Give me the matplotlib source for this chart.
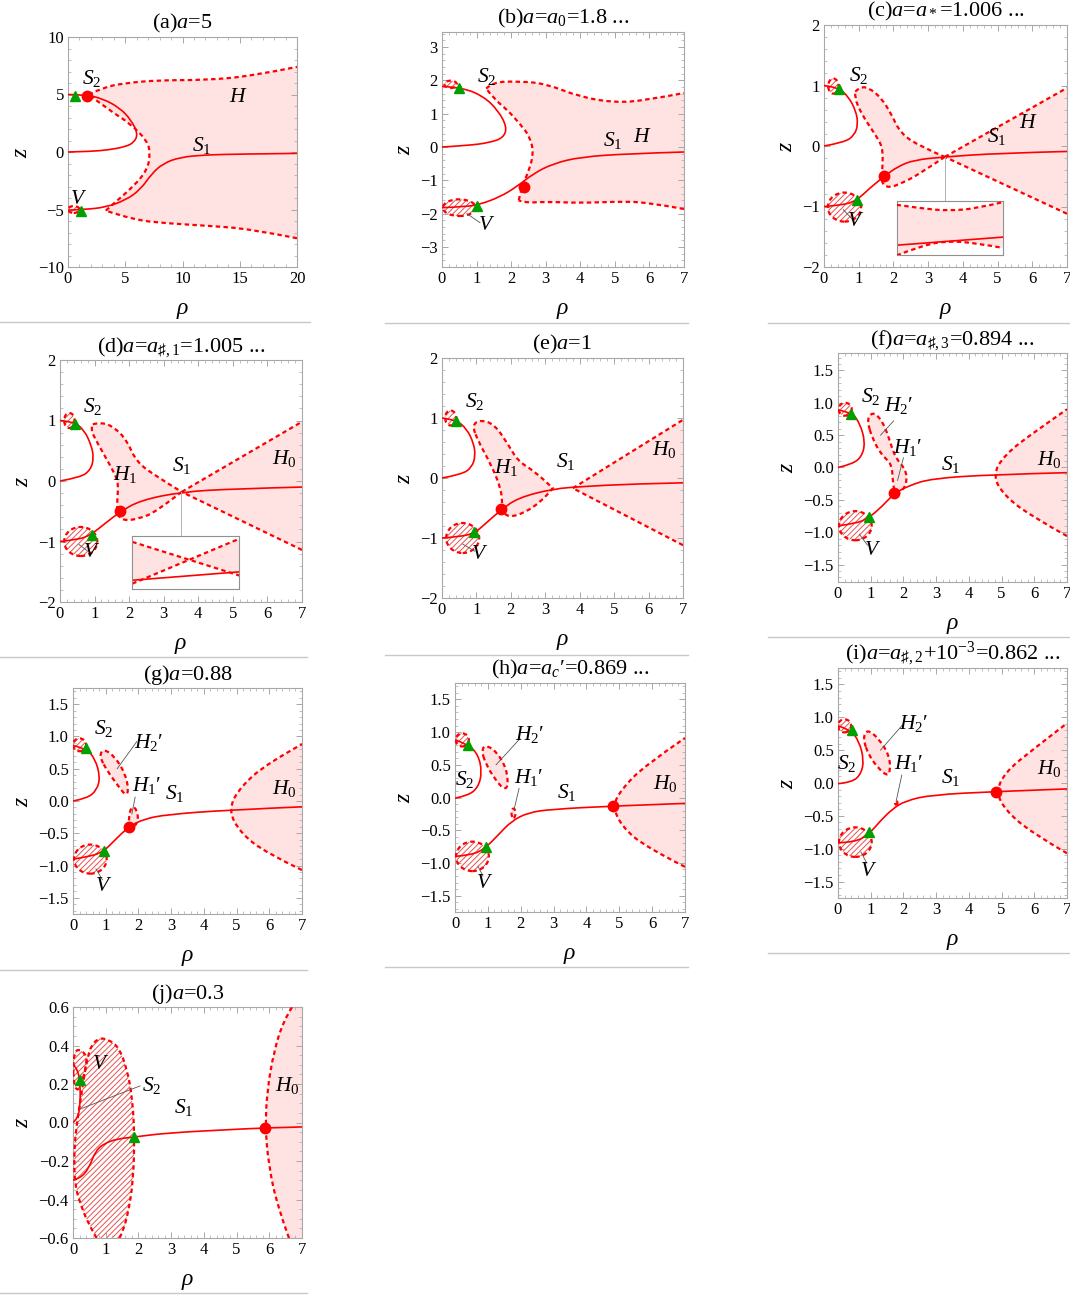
import numpy as np
import matplotlib
matplotlib.use('Agg')
import matplotlib.pyplot as plt
from matplotlib.path import Path
from matplotlib.patches import PathPatch, Ellipse
from matplotlib.lines import Line2D
from matplotlib.ticker import MultipleLocator

plt.rcParams['font.family'] = ['Liberation Serif', 'DejaVu Serif']
plt.rcParams['mathtext.fontset'] = 'custom'
plt.rcParams['mathtext.rm'] = 'Liberation Serif'
plt.rcParams['mathtext.it'] = 'Liberation Serif:italic'
plt.rcParams['mathtext.bf'] = 'Liberation Serif:bold'
plt.rcParams['mathtext.fallback'] = 'stix'
plt.rcParams['hatch.linewidth'] = 0.7

RED = '#ff0000'
PINK = '#ffe2e2'
HATCH = '#e85050'
GREEN = '#00a000'
FRAME = '#a8a8a8'
DOTTED = (0, (2.0, 1.5))

# ---------------- data (rho, z) ----------------
# (a) a = 5
a_s2 = [(0, 5), (1.5, 4.98), (3, 4.65), (4.5, 3.85), (5.5, 2.8), (6.1, 1.6), (5.8, 0.85), (5, 0.45), (3.5, 0.18), (2, 0.05), (0, 0)]
a_s1 = [(0, -5.05), (1.5, -5.0), (3.3, -4.8), (5, -4.2), (6.3, -3.3), (7.3, -1.9), (8.3, -1.0), (9.8, -0.45), (12, -0.25), (15, -0.18), (20, -0.12)]
a_h_low = [(20, -7.5), (16, -6.7), (12, -6.4), (8.6, -6.2), (5.7, -5.9), (3.3, -5.1)]
a_h_in = [(3.3, -5.1), (4.2, -4.3), (5.7, -3.0), (6.9, -1.6), (7.2, -0.15), (6.9, 1.0), (5.4, 2.5), (3.65, 3.6), (1.8, 5.0)]
a_h_top = [(1.8, 5.0), (3, 5.6), (5, 6.0), (8, 6.25), (12, 6.25), (16, 6.6), (20, 7.4)]
a_v = (0.5, -5.0, 1.0, 0.6)
a_tri = [(0.58, 4.85), (1.1, -5.1)]
a_dot = [(1.7, 4.9)]

# (b) a = a0
b_s2 = [(0, 1.82), (0.6, 1.78), (1.2, 1.52), (1.62, 1.1), (1.88, 0.6), (1.78, 0.28), (1.38, 0.13), (0.7, 0.04), (0, 0)]
b_s1 = [(0, -1.82), (0.7, -1.79), (1.1, -1.72), (1.67, -1.5), (2.15, -1.2), (2.64, -0.8), (3.21, -0.5), (4.0, -0.3), (5.4, -0.2), (7, -0.15)]
b_h_low = [(7, -1.86), (5.9, -1.65), (5.0, -1.64), (4.0, -1.68), (3.0, -1.64), (2.4, -1.68), (2.22, -1.6)]
b_h_in = [(2.22, -1.6), (2.3, -1.2), (2.5, -0.75), (2.65, -0.2), (2.55, 0.3), (2.25, 0.7), (1.9, 1.1), (1.5, 1.45), (1.28, 1.75)]
b_h_top = [(1.28, 1.75), (1.45, 1.95), (2.25, 1.97), (3.0, 1.9), (4.0, 1.5), (5.0, 1.33), (5.9, 1.4), (7, 1.62)]
b_top = (0.25, 1.88, 0.36, 0.22)
b_v = (0.5, -1.82, 0.95, 0.5)
b_tri = [(0.48, 1.76), (1.0, -1.78)]
b_dot = [(2.38, -1.2)]

# (c) a = a*
c_s2 = [(0, 1.0), (0.4, 0.97), (0.7, 0.82), (0.92, 0.58), (0.98, 0.36), (0.88, 0.18), (0.59, 0.06), (0, 0)]
c_s1 = [(0, -1.0), (0.5, -0.98), (0.92, -0.91), (1.35, -0.68), (1.74, -0.5), (2.12, -0.34), (2.6, -0.23), (3.48, -0.18), (5, -0.12), (7, -0.09)]
c_h_b1 = [(7, -1.12), (3.48, -0.18)]
c_h_b2 = [(3.48, -0.18), (2.78, -0.45), (2.3, -0.6), (1.85, -0.7), (1.64, -0.6), (1.69, -0.34), (1.69, -0.01), (1.45, 0.21), (1.07, 0.54), (0.88, 0.8), (0.9, 0.9)]
c_h_a1 = [(0.9, 0.9), (1.05, 0.98), (1.3, 0.96), (1.64, 0.8), (1.93, 0.54), (2.2, 0.21), (2.78, -0.01), (3.48, -0.18)]
c_h_a2 = [(3.48, -0.18), (7, 0.96)]
c_top = (0.27, 0.99, 0.3, 0.25)
c_v = (0.59, -1.01, 0.96, 0.48)
c_tri = [(0.42, 0.95), (0.95, -0.9)]
c_dot = [(1.72, -0.5)]
c_in_box = (2.09, -1.8, 3.06, 0.89)
c_in_up = [(0, 0.93), (0.25, 0.86), (0.48, 0.82), (0.75, 0.86), (1, 0.98)]
c_in_low = [(0, -0.01), (0.25, 0.18), (0.48, 0.26), (0.75, 0.22), (1, 0.13)]
c_in_s1 = [(0, 0.18), (1, 0.33)]
c_link = [(3.48, -0.18), (3.48, -0.91)]

# (d) a = a#,1
d_s2 = [(0, 1.0), (0.4, 0.98), (0.7, 0.84), (0.9, 0.6), (0.98, 0.38), (0.88, 0.18), (0.59, 0.06), (0, 0)]
d_s1 = [(0, -1.0), (0.5, -0.97), (0.87, -0.9), (1.35, -0.68), (1.74, -0.51), (2.32, -0.32), (3.52, -0.18), (5, -0.13), (7, -0.1)]
d_h_b1 = [(7, -1.14), (3.52, -0.18)]
d_h_b2 = [(3.52, -0.18), (2.8, -0.5), (2.32, -0.62), (1.83, -0.66), (1.64, -0.54), (1.66, -0.29), (1.69, -0.01), (1.45, 0.26), (1.06, 0.65), (0.88, 0.86), (0.95, 0.94)]
d_h_a1 = [(0.95, 0.94), (1.2, 0.97), (1.54, 0.9), (1.93, 0.68), (2.2, 0.32), (2.8, 0.07), (3.52, -0.18)]
d_h_a2 = [(3.52, -0.18), (7, 0.98)]
d_top = (0.27, 1.0, 0.3, 0.25)
d_v = (0.6, -1.0, 0.96, 0.48)
d_tri = [(0.42, 0.95), (0.93, -0.9)]
d_dot = [(1.74, -0.5)]
d_in_box = (2.09, -1.78, 3.1, 0.87)
d_in_l1 = [(0, 0.89), (1, 0.25)]
d_in_l2 = [(0, 0.095), (1, 0.95)]
d_in_s1 = [(0, 0.16), (1, 0.32)]
d_link = [(3.5, -0.18), (3.5, -0.91)]

# (e) a = 1
e_s2 = [(0, 1.0), (0.4, 0.97), (0.72, 0.82), (0.92, 0.58), (0.97, 0.37), (0.87, 0.18), (0.58, 0.06), (0, 0)]
e_s1 = [(0, -1.0), (0.5, -0.98), (0.95, -0.92), (1.34, -0.72), (1.72, -0.53), (2.21, -0.33), (3.22, -0.18), (4.14, -0.14), (5.5, -0.1), (7, -0.08)]
e_h1 = [(0.87, 0.89), (1.14, 0.97), (1.53, 0.89), (1.92, 0.56), (2.21, 0.28), (2.69, 0.11), (3.22, -0.17), (3.22, -0.17), (2.88, -0.39), (2.4, -0.58), (1.92, -0.66), (1.74, -0.53), (1.74, -0.22), (1.43, 0.22), (1.05, 0.61)]
e_h0_low = [(7, -1.12), (3.8, -0.17)]
e_h0_up = [(3.8, -0.17), (7, 0.97)]
e_top = (0.25, 1.0, 0.32, 0.25)
e_v = (0.6, -1.0, 0.96, 0.5)
e_tri = [(0.42, 0.95), (0.93, -0.9)]
e_dot = [(1.72, -0.52)]

# (f) a = a#,3
f_s2 = [(0, 0.89), (0.43, 0.85), (0.68, 0.67), (0.83, 0.39), (0.73, 0.17), (0.43, 0.05), (0, 0)]
f_s1 = [(0, -0.9), (0.53, -0.87), (0.94, -0.78), (1.35, -0.6), (1.7, -0.41), (2.16, -0.28), (2.87, -0.17), (4.7, -0.11), (7, -0.08)]
f_h2 = [(0.89, 0.72), (1.0, 0.84), (1.2, 0.82), (1.45, 0.62), (1.65, 0.3), (1.8, 0.12), (2.05, -0.02), (2.12, -0.2), (1.98, -0.36), (1.75, -0.42), (1.68, -0.25), (1.65, 0.02), (1.5, 0.12), (1.3, 0.22), (1.05, 0.45)]
f_h0 = [(7, -1.06), (6.0, -0.78), (5.1, -0.45), (4.72, -0.12), (5.1, 0.2), (6.0, 0.55), (7, 0.9)]
f_top = (0.22, 0.9, 0.4, 0.2)
f_v = (0.53, -0.9, 1.0, 0.45)
f_tri = [(0.4, 0.83), (0.95, -0.77)]
f_dot = [(1.72, -0.4)]

# (g) a = 0.88
g_s2 = [(0, 0.86), (0.41, 0.81), (0.68, 0.65), (0.83, 0.37), (0.73, 0.17), (0.43, 0.04), (0, 0)]
g_s1 = [(0, -0.9), (0.53, -0.86), (0.94, -0.78), (1.29, -0.6), (1.7, -0.4), (2.16, -0.28), (2.87, -0.21), (4.71, -0.14), (7, -0.09)]
g_h2 = [(0.8, 0.7), (0.94, 0.81), (1.29, 0.68), (1.6, 0.42), (1.7, 0.17), (1.62, 0.08), (1.4, 0.22), (1.04, 0.47)]
g_h1 = [(1.7, -0.4), (1.72, -0.2), (1.8, -0.08), (1.95, -0.13), (2.0, -0.3), (1.85, -0.42)]
g_h0 = [(7, -1.07), (5.93, -0.81), (5.12, -0.5), (4.74, -0.13), (5.12, 0.22), (5.93, 0.58), (7, 0.88)]
g_top = (0.2, 0.87, 0.4, 0.2)
g_v = (0.53, -0.9, 1.0, 0.45)
g_tri = [(0.4, 0.82), (0.95, -0.77)]
g_dot = [(1.72, -0.4)]

# (h) a = ac'
h_s2 = [(0, 0.88), (0.41, 0.81), (0.71, 0.65), (0.82, 0.39), (0.71, 0.16), (0.41, 0.03), (0, -0.01)]
h_s1 = [(0, -0.9), (0.51, -0.88), (0.91, -0.78), (1.32, -0.57), (1.72, -0.36), (2.23, -0.23), (2.94, -0.18), (4.8, -0.13), (7, -0.09)]
h_h2 = [(0.81, 0.7), (0.91, 0.81), (1.27, 0.7), (1.57, 0.44), (1.62, 0.16), (1.47, 0.13), (1.22, 0.28), (0.96, 0.49)]
h_h1 = (1.78, -0.24, 0.12, 0.14)
h_h0 = [(7, -1.06), (5.78, -0.75), (5.07, -0.44), (4.8, -0.13), (5.07, 0.13), (5.78, 0.49), (7, 0.91)]
h_top = (0.22, 0.88, 0.4, 0.2)
h_v = (0.53, -0.9, 1.0, 0.45)
h_tri = [(0.4, 0.81), (0.95, -0.76)]
h_dot = [(4.8, -0.13)]

# (i) a = a#,2 + 1e-3
i_s2 = [(0, 0.87), (0.38, 0.81), (0.65, 0.63), (0.79, 0.35), (0.71, 0.14), (0.43, 0.01), (0, -0.01)]
i_s1 = [(0, -0.91), (0.53, -0.9), (0.94, -0.78), (1.29, -0.58), (1.65, -0.4), (2.06, -0.27), (2.87, -0.18), (4.81, -0.13), (7, -0.09)]
i_h2 = [(0.76, 0.68), (0.89, 0.82), (1.24, 0.68), (1.57, 0.42), (1.6, 0.17), (1.5, 0.11), (1.24, 0.22), (0.94, 0.42)]
i_h1 = (1.78, -0.3, 0.07, 0.06)
i_h0 = [(7, -1.07), (5.93, -0.76), (5.12, -0.42), (4.83, -0.13), (5.12, 0.17), (5.93, 0.5), (7, 0.91)]
i_top = (0.2, 0.87, 0.4, 0.2)
i_v = (0.53, -0.9, 1.0, 0.45)
i_tri = [(0.42, 0.8), (0.95, -0.75)]
i_dot = [(4.83, -0.13)]

# (j) a = 0.3
j_s2 = [(0, 0.3), (0.14, 0.28), (0.22, 0.2), (0.22, 0.09), (0.14, 0.02), (0, 0)]
j_s1 = [(0, -0.3), (0.22, -0.29), (0.48, -0.24), (0.68, -0.15), (0.94, -0.11), (1.35, -0.085), (1.86, -0.076), (2.87, -0.054), (4.9, -0.036), (5.88, -0.028), (7, -0.023)]
j_v_small = [(0.0, 0.3), (0.06, 0.37), (0.2, 0.38), (0.35, 0.36), (0.44, 0.33), (0.3, 0.22), (0.15, 0.16), (0.02, 0.2)]
j_v_big = [(0.72, -0.6), (0.45, -0.52), (0.22, -0.42), (0.05, -0.32), (0.03, -0.15), (0.12, 0.0), (0.26, 0.15), (0.36, 0.26), (0.44, 0.33),
           (0.55, 0.4), (0.8, 0.44), (1.1, 0.43), (1.4, 0.39), (1.65, 0.28), (1.82, 0.12), (1.88, -0.08), (1.84, -0.3), (1.7, -0.46), (1.52, -0.57), (1.42, -0.6)]
j_h0 = [(6.6, -0.6), (6.24, -0.43), (5.98, -0.22), (5.88, -0.03), (5.93, 0.16), (6.14, 0.37), (6.44, 0.53), (6.7, 0.6)]
j_tri = [(0.22, 0.22), (1.86, -0.076)]
j_dot = [(5.88, -0.028)]

S1 = r'$S_{\mathit{1}}$'
S2 = r'$S_{\mathit{2}}$'
H0 = r'$H_{\mathit{0}}$'
H1 = r'$H_{\mathit{1}}$'
H1p = r"$H_{\mathit{1}}$′"
H2p = r"$H_{\mathit{2}}$′"
HH = r'$H$'
VV = r'$V$'

titles = [r'(a)$a$=5', r'(b)$a$=$a_{\mathit{0}}$=1.8 ...', r'(c)$a$=$a_*$=1.006 ...',
          r'(d)$a$=$a_{\sharp,\mathit{1}}$=1.005 ...', r'(e)$a$=1', r'(f)$a$=$a_{\sharp,\mathit{3}}$=0.894 ...',
          r'(g)$a$=0.88', r"(h)$a$=$a_c$′=0.869 ...", r'(i)$a$=$a_{\sharp,\mathit{2}}$+$\mathit{10}^{-\mathit{3}}$=0.862 ...',
          r'(j)$a$=0.3']


# ---------------- helpers ----------------
def quad_chain(pts):
    pts = np.asarray(pts, float)
    n = len(pts)
    if n == 2:
        return [tuple(pts[1])], [Path.LINETO]
    verts, codes = [], []
    for k in range(1, n - 1):
        end = pts[n - 1] if k == n - 2 else (pts[k] + pts[k + 1]) / 2
        verts += [tuple(pts[k]), tuple(end)]
        codes += [Path.CURVE3, Path.CURVE3]
    return verts, codes


def open_path(pts):
    v, c = quad_chain(pts)
    return Path([tuple(pts[0])] + v, [Path.MOVETO] + c)


def loop_path(pts):
    pts = np.asarray(pts, float)
    n = len(pts)
    start = (pts[-1] + pts[0]) / 2
    verts, codes = [tuple(start)], [Path.MOVETO]
    for k in range(n):
        verts += [tuple(pts[k]), tuple((pts[k] + pts[(k + 1) % n]) / 2)]
        codes += [Path.CURVE3, Path.CURVE3]
    verts.append(tuple(start))
    codes.append(Path.CLOSEPOLY)
    return Path(verts, codes)


def chain_path(segs, close, xmax):
    verts, codes = [tuple(segs[0][0])], [Path.MOVETO]
    for s in segs:
        if not np.allclose(verts[-1], s[0]):
            verts.append(tuple(s[0]))
            codes.append(Path.LINETO)
        v, c = quad_chain(s)
        verts += v
        codes += c
    if close == 'right':
        yl = verts[-1][1]
        verts += [(xmax, yl), (xmax, segs[0][0][1])]
        codes += [Path.LINETO, Path.LINETO]
    verts.append(tuple(segs[0][0]))
    codes.append(Path.CLOSEPOLY)
    return Path(verts, codes)


def dotted(ax, path):
    ax.add_patch(PathPatch(path, fill=False, edgecolor=RED, lw=1.6, linestyle=DOTTED, zorder=3))


def region(ax, spec, xmax):
    hatched = spec.get('hatch', False)
    kw = dict(facecolor='none', edgecolor=HATCH, hatch='//////', lw=0) if hatched else \
        dict(facecolor=PINK, edgecolor='none', lw=0)
    if 'ell' in spec:
        cx, cy, w, h = spec['ell']
        ax.add_patch(Ellipse((cx, cy), w, h, zorder=1, **kw))
        ax.add_patch(Ellipse((cx, cy), w, h, fill=False, edgecolor=RED, lw=1.6, linestyle=DOTTED, zorder=3))
    elif 'loop' in spec:
        ax.add_patch(PathPatch(loop_path(spec['loop']), zorder=1, **kw))
        dotted(ax, loop_path(spec['loop']))
    else:
        ax.add_patch(PathPatch(chain_path(spec['segs'], spec.get('close', 'line'), xmax), zorder=1, **kw))
        for s in spec['segs']:
            dotted(ax, open_path(s))


def hatch_ell(e):
    return dict(ell=e, hatch=True)


# ---------------- panel table ----------------
panels = [
    dict(box=(68, 37, 297, 267), xlim=(0, 20), ylim=(-10, 10), xt=(5, 1), yt=(5, 1), curves=[a_s2, a_s1],
         regions=[dict(segs=[a_h_low, a_h_in, a_h_top], close='right'), hatch_ell(a_v)],
         tri=a_tri, dot=a_dot, sep=(0, 310, 322),
         labels=[(2.1, 6.4, S2), (14.9, 4.7, HH), (11.7, 0.55, S1), (0.9, -4.1, VV)], pointers=[]),
    dict(box=(442, 32, 684, 267), xlim=(0, 7), ylim=(-3.6, 3.45), xt=(1, 0.2), yt=(1, 0.2), curves=[b_s2, b_s1],
         regions=[dict(segs=[b_h_low, b_h_in, b_h_top], close='right'), hatch_ell(b_top), hatch_ell(b_v)],
         tri=b_tri, dot=b_dot, sep=(385, 688, 323),
         labels=[(1.3, 2.12, S2), (4.95, 0.2, S1), (5.8, 0.3, HH), (1.28, -2.35, VV)],
         pointers=[[(0.72, -2.0), (1.1, -2.27)]]),
    dict(box=(824, 25, 1067, 267), xlim=(0, 7), ylim=(-2, 2), xt=(1, 0.2), yt=(1, 0.2), curves=[c_s2, c_s1],
         regions=[dict(segs=[c_h_b1, c_h_b2, c_h_a1, c_h_a2], close='right'), hatch_ell(c_top), hatch_ell(c_v)],
         tri=c_tri, dot=c_dot, sep=(768, 1070, 323),
         labels=[(1.0, 1.16, S2), (4.98, 0.15, S1), (5.9, 0.37, HH), (0.92, -1.25, VV)],
         pointers=[[(0.55, -1.05), (0.8, -1.2)]],
         inset=dict(box=c_in_box, kind='gap', a=c_in_low, b=c_in_up, s1=c_in_s1, link=c_link)),
    dict(box=(60, 360, 302, 602), xlim=(0, 7), ylim=(-2, 2), xt=(1, 0.2), yt=(1, 0.2), curves=[d_s2, d_s1],
         regions=[dict(segs=[d_h_b1, d_h_b2, d_h_a1, d_h_a2], close='right'), hatch_ell(d_top), hatch_ell(d_v)],
         tri=d_tri, dot=d_dot, sep=(0, 307, 657),
         labels=[(0.95, 1.23, S2), (1.88, 0.1, H1), (3.52, 0.26, S1), (6.5, 0.37, H0), (0.9, -1.18, VV)],
         pointers=[[(0.55, -1.05), (0.78, -1.15)]],
         inset=dict(box=d_in_box, kind='cross', a=d_in_l1, b=d_in_l2, s1=d_in_s1, link=d_link)),
    dict(box=(442, 358, 683, 598), xlim=(0, 7), ylim=(-2, 2), xt=(1, 0.2), yt=(1, 0.2), curves=[e_s2, e_s1],
         regions=[dict(loop=e_h1), dict(segs=[e_h0_low, e_h0_up], close='right'), hatch_ell(e_top), hatch_ell(e_v)],
         tri=e_tri, dot=e_dot, sep=(385, 688, 655),
         labels=[(0.95, 1.28, S2), (1.87, 0.17, H1), (3.6, 0.28, S1), (6.47, 0.47, H0), (1.1, -1.28, VV)],
         pointers=[[(0.6, -1.1), (0.95, -1.22)]]),
    dict(box=(838, 353, 1067, 582), xlim=(0, 7), ylim=(-1.77, 1.77), xt=(1, 0.2), yt=(0.5, 0.1), curves=[f_s2, f_s1],
         regions=[dict(loop=f_h2), dict(segs=[f_h0], close='right'), hatch_ell(f_top), hatch_ell(f_v)],
         tri=f_tri, dot=f_dot, sep=(768, 1070, 637),
         labels=[(1.0, 1.1, S2), (1.85, 0.96, H2p), (2.12, 0.31, H1p), (3.45, 0.05, S1), (6.45, 0.13, H0), (1.05, -1.28, VV)],
         pointers=[[(1.3, 0.5), (1.7, 0.72)], [(2.0, 0.15), (1.82, -0.2)], [(0.65, -1.03), (0.9, -1.2)]]),
    dict(box=(73, 688, 302, 914), xlim=(0, 7), ylim=(-1.75, 1.75), xt=(1, 0.2), yt=(0.5, 0.1), curves=[g_s2, g_s1],
         regions=[dict(loop=g_h2), dict(loop=g_h1), dict(segs=[g_h0], close='right'), hatch_ell(g_top), hatch_ell(g_v)],
         tri=g_tri, dot=g_dot, sep=(0, 307, 970),
         labels=[(0.95, 1.12, S2), (2.3, 0.91, H2p), (2.25, 0.24, H1p), (3.1, 0.12, S1), (6.45, 0.2, H0), (0.95, -1.32, VV)],
         pointers=[[(1.35, 0.5), (1.95, 0.92)], [(1.9, 0.06), (1.8, -0.2)], [(0.7, -1.05), (0.9, -1.22)]]),
    dict(box=(455, 683, 685, 912), xlim=(0, 7), ylim=(-1.75, 1.75), xt=(1, 0.2), yt=(0.5, 0.1), curves=[h_s2, h_s1],
         regions=[dict(loop=h_h2), dict(ell=h_h1), dict(segs=[h_h0], close='right'), hatch_ell(h_top), hatch_ell(h_v)],
         tri=h_tri, dot=h_dot, sep=(385, 688, 967),
         labels=[(0.3, 0.28, S2), (2.28, 0.96, H2p), (2.23, 0.31, H1p), (3.4, 0.08, S1), (6.4, 0.21, H0), (0.9, -1.32, VV)],
         pointers=[[(1.25, 0.5), (1.98, 0.9)], [(1.95, 0.14), (1.8, -0.18)], [(0.7, -1.05), (0.85, -1.2)]]),
    dict(box=(838, 668, 1067, 898), xlim=(0, 7), ylim=(-1.75, 1.75), xt=(1, 0.2), yt=(0.5, 0.1), curves=[i_s2, i_s1],
         regions=[dict(loop=i_h2), dict(ell=i_h1), dict(segs=[i_h0], close='right'), hatch_ell(i_top), hatch_ell(i_v)],
         tri=i_tri, dot=i_dot, sep=(768, 1070, 953),
         labels=[(0.28, 0.29, S2), (2.3, 0.91, H2p), (2.15, 0.29, H1p), (3.45, 0.09, S1), (6.45, 0.22, H0), (0.95, -1.35, VV)],
         pointers=[[(1.3, 0.5), (2.0, 0.9)], [(1.95, 0.12), (1.78, -0.27)], [(0.7, -1.05), (0.88, -1.22)]]),
    dict(box=(73, 1007, 302, 1238), xlim=(0, 7), ylim=(-0.6, 0.6), xt=(1, 0.2), yt=(0.2, 0.05), curves=[j_s2, j_s1],
         regions=[dict(loop=j_v_small, hatch=True), dict(segs=[j_v_big], hatch=True), dict(segs=[j_h0], close='right')],
         tri=j_tri, dot=j_dot, sep=(0, 307, 1293),
         labels=[(0.84, 0.3, VV), (2.4, 0.19, S2), (3.38, 0.08, S1), (6.55, 0.19, H0)],
         pointers=[[(0.22, 0.07), (2.05, 0.19)]]),
]

W, H = 1070, 1295
fig = plt.figure(figsize=(W / 100, H / 100), dpi=100)

for p, title in zip(panels, titles):
    l, t, r, b = p['box']
    ax = fig.add_axes([l / W, 1 - b / H, (r - l) / W, (b - t) / H])
    ax.set_xlim(*p['xlim'])
    ax.set_ylim(*p['ylim'])
    xmax = p['xlim'][1]

    for spec in p['regions']:
        region(ax, spec, xmax)
    for c in p['curves']:
        ax.add_patch(PathPatch(open_path(c), fill=False, edgecolor=RED, lw=1.2, zorder=4))
    tx, ty = zip(*p['tri'])
    ax.plot(tx, ty, '^', color=GREEN, ms=7, mec=GREEN, zorder=6, clip_on=False)
    dx, dy = zip(*p['dot'])
    ax.plot(dx, dy, 'o', color=RED, ms=7.5, zorder=6)
    for x, y, s in p['labels']:
        ax.text(x, y, s, fontsize=15.5, ha='center', va='center', zorder=7)
    for pl in p['pointers']:
        px, py = zip(*pl)
        ax.plot(px, py, color='#555555', lw=0.6, zorder=5)

    if 'inset' in p:
        ins = p['inset']
        x0, y0, w, h = ins['box']
        lx, ly = zip(*ins['link'])
        ax.plot(lx, ly, color='#b0b0b0', lw=0.7, zorder=5)
        iax = ax.inset_axes([x0, y0, w, h], transform=ax.transData, zorder=8)
        iax.set_xlim(0, 1)
        iax.set_ylim(0, 1)
        iax.set_xticks([])
        iax.set_yticks([])
        for sp in iax.spines.values():
            sp.set_color('#909090')
            sp.set_linewidth(0.8)
        if ins['kind'] == 'gap':
            iax.add_patch(PathPatch(chain_path([ins['a'], ins['b'][::-1]], 'line', 1), facecolor=PINK, lw=0))
            dotted(iax, open_path(ins['a']))
            dotted(iax, open_path(ins['b']))
        else:
            ax_, ay_ = zip(*ins['a'])
            bx_, by_ = zip(*ins['b'])
            iax.fill(list(ax_) + list(bx_)[::-1], list(ay_) + list(by_)[::-1], color=PINK, lw=0)
            iax.plot(ax_, ay_, color=RED, lw=1.6, ls=DOTTED)
            iax.plot(bx_, by_, color=RED, lw=1.6, ls=DOTTED)
        sx, sy = zip(*ins['s1'])
        iax.plot(sx, sy, color=RED, lw=1.2)

    ax.xaxis.set_major_locator(MultipleLocator(p['xt'][0]))
    ax.xaxis.set_minor_locator(MultipleLocator(p['xt'][1]))
    ax.yaxis.set_major_locator(MultipleLocator(p['yt'][0]))
    ax.yaxis.set_minor_locator(MultipleLocator(p['yt'][1]))
    ax.tick_params(which='both', direction='in', top=True, right=True, color=FRAME, labelsize=12)
    ax.tick_params(which='major', length=4, width=0.7, pad=3)
    ax.tick_params(which='minor', length=2, width=0.5)
    for sp in ax.spines.values():
        sp.set_color(FRAME)
        sp.set_linewidth(0.8)
    ax.set_title(title, fontsize=16, pad=6)
    ax.set_xlabel(r'$\rho$', fontsize=17, labelpad=9)
    ax.set_ylabel(r'$z$', fontsize=17, labelpad=4)

    sx0, sx1, sy = p['sep']
    fig.add_artist(Line2D([sx0 / W, sx1 / W], [1 - sy / H, 1 - sy / H], color='#c8c8c8', lw=1.0))

fig.savefig('out.png', dpi=100)
